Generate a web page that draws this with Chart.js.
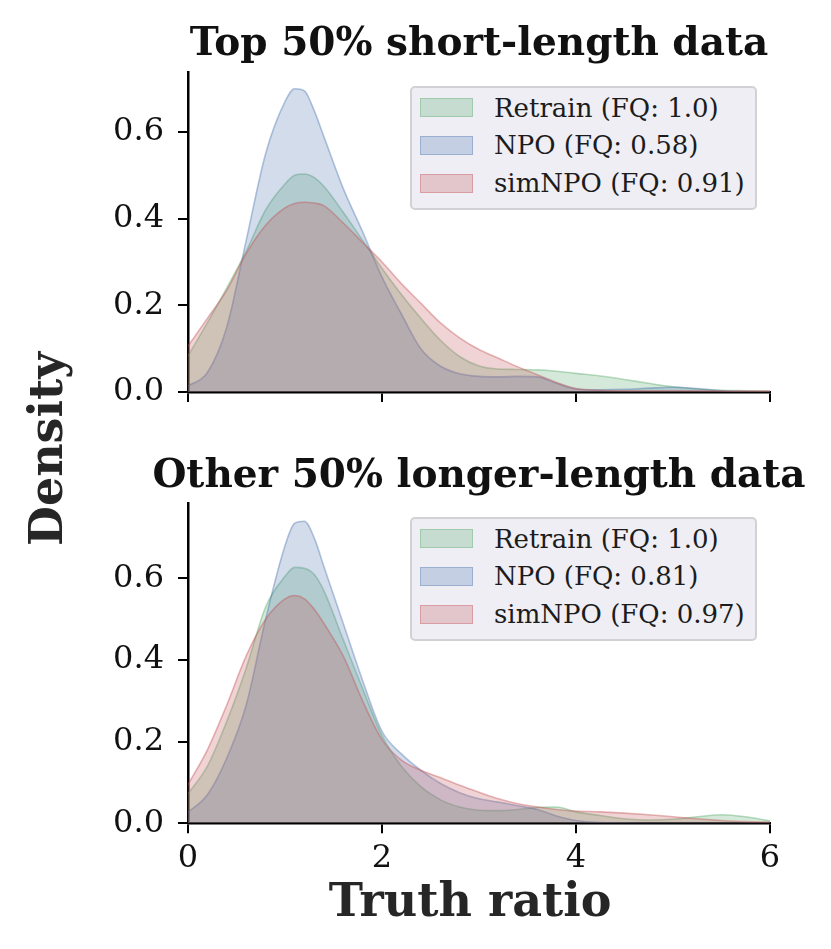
<!DOCTYPE html>
<html>
<head>
<meta charset="utf-8">
<script src="https://cdn.jsdelivr.net/npm/chart.js@4.4.0/dist/chart.umd.min.js"></script>
<style>
  html,body{margin:0;padding:0;background:#fff;}
  body{width:831px;height:949px;position:relative;overflow:hidden;font-family:'DejaVu Serif',serif;color:#1c1c1c;}
  canvas{position:absolute;left:0;}
  .title{position:absolute;left:0;width:958px;text-align:center;font-weight:bold;font-size:39px;white-space:nowrap;line-height:1;color:#111;}
  .legend{position:absolute;left:410px;width:343px;height:120px;background:#eeeef4;border:2px solid #d2d2d6;border-radius:5px;}
  .row{position:absolute;left:8px;height:26px;font-size:26px;line-height:26px;white-space:nowrap;}
  .sw{display:inline-block;width:51px;height:17px;vertical-align:middle;margin-right:21px;margin-top:-4px;border:1.5px solid;}
  .sup{position:absolute;font-weight:bold;font-size:46px;white-space:nowrap;line-height:1;color:#262626;}
</style>
</head>
<body>
<canvas id="top" width="831" height="426" style="top:0"></canvas>
<canvas id="bot" width="831" height="450" style="top:430px"></canvas>

<div class="title" style="top:22px">Top 50% short-length data</div>
<div class="title" style="top:454px">Other 50% longer-length data</div>
<div class="legend" id="legTop" style="top:86px"></div>
<div class="legend" id="legBot" style="top:517px"></div>
<div class="sup" style="left:46px;top:449px;transform:translate(-50%,-50%) rotate(-90deg)">Density</div>
<div class="sup" style="left:470px;top:900px;transform:translate(-50%,-50%)">Truth ratio</div>

<script>
// ── DATA ──
const XS = [0,0.2,0.4,0.6,0.8,1.0,1.1,1.2,1.3,1.4,1.6,1.8,2.0,2.2,2.4,2.6,2.8,3.0,3.2,3.4,3.6,3.8,4.0,4.25,4.5,4.75,5.0,5.25,5.5,5.75,6.0];

// top panel: short-length
const retrainTop = [0.083,0.16,0.24,0.325,0.42,0.48,0.50,0.503,0.495,0.475,0.415,0.35,0.285,0.225,0.17,0.12,0.082,0.06,0.053,0.052,0.051,0.048,0.043,0.037,0.029,0.02,0.012,0.007,0.004,0.003,0.002];
const npoTop     = [0.014,0.045,0.15,0.35,0.55,0.67,0.70,0.695,0.65,0.59,0.47,0.37,0.265,0.18,0.10,0.06,0.042,0.036,0.035,0.036,0.035,0.02,0.007,0.005,0.006,0.009,0.011,0.008,0.003,0.001,0.0];
const simTop     = [0.106,0.17,0.235,0.32,0.385,0.425,0.435,0.438,0.436,0.43,0.39,0.345,0.30,0.25,0.205,0.16,0.125,0.098,0.078,0.058,0.04,0.022,0.008,0.004,0.003,0.003,0.003,0.003,0.002,0.002,0.002];

// bottom panel: longer-length
const retrainBot = [0.072,0.14,0.25,0.38,0.53,0.605,0.627,0.625,0.61,0.57,0.45,0.33,0.215,0.14,0.09,0.058,0.04,0.032,0.031,0.034,0.039,0.04,0.028,0.019,0.011,0.008,0.01,0.016,0.021,0.016,0.006];
const npoBot     = [0.027,0.07,0.16,0.29,0.5,0.68,0.735,0.74,0.70,0.63,0.49,0.35,0.225,0.17,0.13,0.098,0.075,0.06,0.052,0.043,0.034,0.018,0.007,0.002,0.001,0,0,0,0,0,0];
const simBot     = [0.095,0.18,0.29,0.41,0.5,0.55,0.558,0.55,0.525,0.49,0.41,0.30,0.205,0.155,0.13,0.112,0.093,0.076,0.06,0.048,0.04,0.034,0.03,0.028,0.025,0.021,0.016,0.011,0.007,0.004,0.003];

const labelsTop = ['Retrain (FQ: 1.0)','NPO (FQ: 0.58)','simNPO (FQ: 0.91)'];
const labelsBot = ['Retrain (FQ: 1.0)','NPO (FQ: 0.81)','simNPO (FQ: 0.97)'];
const X_TICKS = [0,2,4,6];
const Y_TICKS = [0,0.2,0.4,0.6];

const COLORS = {
  green:'85,168,104', blue:'76,114,176', red:'196,78,82'
};
const SERIES_COLORS = [COLORS.green, COLORS.blue, COLORS.red];
const FONT = "'DejaVu Serif', serif";

const pts = ys => XS.map((x,i)=>({x, y:ys[i]}));

function dataset(label, ys, rgb, order){
  return {
    label, data: pts(ys), order,
    fill:'origin',
    backgroundColor:`rgba(${rgb},0.25)`,
    borderColor:`rgba(${rgb},0.4)`,
    borderWidth:1.6,
    pointRadius:0,
    cubicInterpolationMode:'monotone'
  };
}

// y tick labels add ~34px of padding below the chart area, so xHeight must be >= that
function makePanel(id, series, labels, opt){
  const c = document.getElementById(id);
  return new Chart(c.getContext('2d'), {
    type:'line',
    data:{datasets: series.map((ys,i)=>dataset(labels[i], ys, SERIES_COLORS[i], 3-i))},
    options:{
      responsive:false, animation:false, devicePixelRatio:1,
      layout:{padding:{top:opt.padTop, right:61, bottom:0, left:0}},
      plugins:{legend:{display:false}, tooltip:{enabled:false}},
      scales:{
        x:{
          type:'linear', min:0, max:6,
          afterBuildTicks: s => { s.ticks = X_TICKS.map(v=>({value:v})); },
          afterFit: s => { s.height = opt.xHeight; },
          grid:{display:true, drawOnChartArea:false, drawTicks:true, tickLength:10, color:'#000', lineWidth:2},
          border:{display:true, color:'#000', width:2.5},
          ticks:{display:opt.xLabels, padding:6, color:'#111', font:{family:FONT, size:32}, maxRotation:0}
        },
        y:{
          min:0, max:opt.yMax,
          afterBuildTicks: s => { s.ticks = Y_TICKS.map(v=>({value:v})); },
          afterFit: s => { s.width = 188; },
          grid:{display:true, drawOnChartArea:false, drawTicks:true, tickLength:10, color:'#000', lineWidth:2},
          border:{display:true, color:'#000', width:2.5},
          ticks:{padding:14, color:'#111', font:{family:FONT, size:32}, callback:v=>v.toFixed(1)}
        }
      }
    }
  });
}

function buildLegend(id, labels){
  const box = document.getElementById(id);
  labels.forEach((lab,i)=>{
    const r = document.createElement('div');
    r.className = 'row';
    r.style.top = (6.7 + i*37.7) + 'px';
    const rgb = SERIES_COLORS[i];
    r.innerHTML = `<span class="sw" style="background:rgba(${rgb},0.25);border-color:rgba(${rgb},0.35)"></span>${lab}`;
    box.appendChild(r);
  });
}

makePanel('top', [retrainTop, npoTop, simTop], labelsTop, {padTop:72, xHeight:34, yMax:0.7385, xLabels:false});
makePanel('bot', [retrainBot, npoBot, simBot], labelsBot, {padTop:73.3, xHeight:56.7, yMax:0.784, xLabels:true});
buildLegend('legTop', labelsTop);
buildLegend('legBot', labelsBot);
</script>
</body>
</html>
